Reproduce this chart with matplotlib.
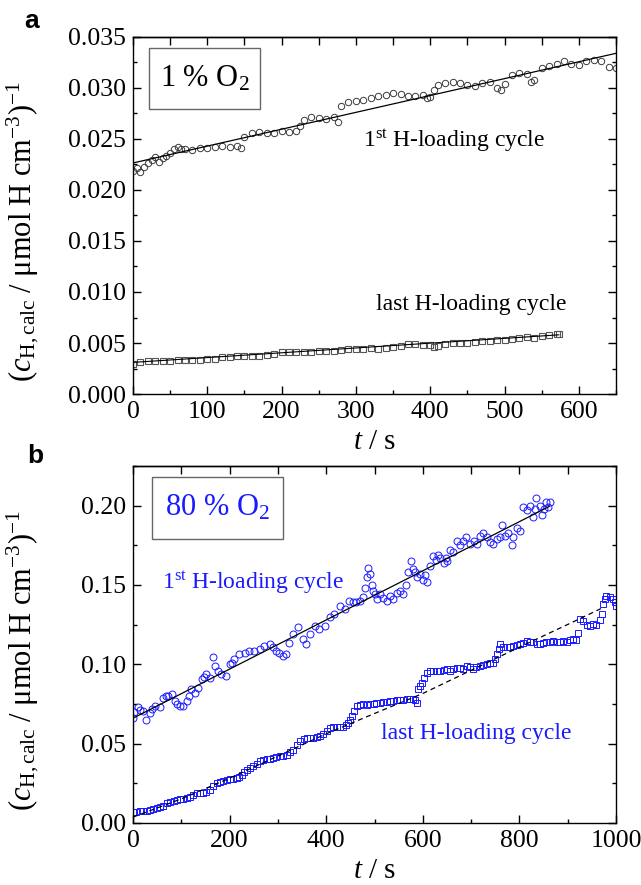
"""
H-loading kinetics at 1 % and 80 % O2: reciprocal calculated hydrogen
concentration vs. time for the first and the last loading cycle.
"""

import matplotlib
matplotlib.use("Agg")
import matplotlib.pyplot as plt
from matplotlib.patches import Rectangle
from matplotlib.ticker import MultipleLocator, NullFormatter

plt.rcParams["font.family"] = ["Liberation Serif", "DejaVu Serif"]
plt.rcParams["mathtext.fontset"] = "custom"
plt.rcParams["mathtext.rm"] = "Liberation Serif"
plt.rcParams["mathtext.it"] = "Liberation Serif:italic"
plt.rcParams["mathtext.bf"] = "Liberation Serif:bold"

# ------------------------------------------------------------ panel a data
A1_T = [0, 5, 10, 15, 20, 25, 30, 35, 40, 45,
        50, 55, 60, 65, 70, 80, 90, 100, 110, 120,
        130, 140, 145, 150, 160, 170, 180, 190, 200, 210,
        220, 225, 230, 240, 250, 260, 270, 276, 280, 290,
        300, 310, 320, 330, 340, 350, 360, 370, 380, 390,
        395, 400, 405, 410, 420, 430, 440, 450, 460, 470,
        480, 490, 495, 500, 510, 520, 530, 535, 540, 550,
        560, 570, 580, 590, 600, 610, 620, 630, 640, 650]
A1_V = [0.0219, 0.0222, 0.0218, 0.0223, 0.0226, 0.0229, 0.0232, 0.0227, 0.0231, 0.0233,
        0.0236, 0.0240, 0.0242, 0.0240, 0.0240, 0.0239, 0.0241, 0.0241, 0.0242, 0.0243,
        0.0242, 0.0243, 0.0241, 0.0252, 0.0256, 0.0257, 0.0256, 0.0256, 0.0258, 0.0257,
        0.0258, 0.0263, 0.0269, 0.0272, 0.0271, 0.0270, 0.0272, 0.0267, 0.0282, 0.0286,
        0.0287, 0.0288, 0.0290, 0.0292, 0.0293, 0.0295, 0.0294, 0.0292, 0.0292, 0.0293,
        0.0290, 0.0291, 0.0298, 0.0303, 0.0305, 0.0306, 0.0305, 0.0303, 0.0302, 0.0305,
        0.0306, 0.0300, 0.0298, 0.0304, 0.0313, 0.0315, 0.0314, 0.0306, 0.0308, 0.0320,
        0.0322, 0.0324, 0.0326, 0.0324, 0.0323, 0.0326, 0.0327, 0.0326, 0.0321, 0.0320]

A2_T = [0, 10, 20, 30, 40, 50, 60, 70, 80, 90,
        100, 110, 120, 130, 140, 150, 160, 170, 180, 190,
        200, 210, 220, 230, 240, 250, 260, 270, 280, 290,
        300, 310, 320, 330, 340, 350, 360, 370, 380, 390,
        400, 405, 410, 420, 430, 440, 450, 460, 470, 480,
        490, 500, 510, 520, 530, 540, 550, 560, 570, 573]
A2_V = [0.0029, 0.0031, 0.0032, 0.0032, 0.0032, 0.0032, 0.0033, 0.0033, 0.0033, 0.0033,
        0.0034, 0.0034, 0.0036, 0.0036, 0.0037, 0.0037, 0.0037, 0.0037, 0.0038, 0.0039,
        0.0041, 0.0041, 0.0041, 0.0041, 0.0041, 0.0042, 0.0042, 0.0042, 0.0043, 0.0044,
        0.0044, 0.0044, 0.0045, 0.0044, 0.0045, 0.0046, 0.0047, 0.0049, 0.0049, 0.0048,
        0.0048, 0.0046, 0.0047, 0.0049, 0.0050, 0.0050, 0.0050, 0.0051, 0.0052, 0.0052,
        0.0053, 0.0053, 0.0054, 0.0055, 0.0056, 0.0055, 0.0057, 0.0058, 0.0059, 0.0059]

FIT_A1_T = [0, 650]
FIT_A1_V = [0.02265, 0.0334]
FIT_A2_T = [0, 573]
FIT_A2_V = [0.0031, 0.0058]

# ------------------------------------------------------------ panel b data
B1_T = [0, 3, 10, 15, 20, 27, 35, 40, 45, 55,
        62, 68, 73, 80, 87, 92, 97, 104, 111, 116,
        121, 128, 135, 142, 147, 152, 159, 166, 169, 176,
        183, 193, 200, 205, 210, 220, 231, 241, 251, 262,
        272, 283, 290, 296, 303, 310, 317, 324, 331, 341,
        352, 359, 366, 376, 386, 397, 407, 417, 428, 438,
        448, 455, 462, 470, 476, 480, 484, 487, 490, 494,
        497, 501, 505, 511, 518, 525, 532, 539, 546, 553,
        560, 566, 570, 575, 580, 584, 589, 594, 600, 605,
        608, 615, 622, 627, 632, 636, 643, 647, 650, 657,
        663, 670, 677, 684, 690, 698, 705, 712, 718, 725,
        732, 739, 746, 753, 760, 763, 770, 777, 784, 787,
        794, 801, 808, 815, 822, 828, 832, 835, 842, 846,
        850, 856, 860, 863]
B1_V = [0.066, 0.070, 0.0728, 0.071, 0.0707, 0.0652, 0.0696, 0.072, 0.0736, 0.073,
        0.079, 0.080, 0.080, 0.081, 0.0768, 0.075, 0.0736, 0.0736, 0.0768, 0.080,
        0.0842, 0.082, 0.0852, 0.0905, 0.092, 0.0937, 0.0916, 0.1044, 0.099, 0.0958,
        0.0937, 0.0926, 0.100, 0.101, 0.1031, 0.1063, 0.1073, 0.1084, 0.1084, 0.1095,
        0.1116, 0.1126, 0.111, 0.1084, 0.107, 0.1053, 0.1063, 0.1137, 0.119, 0.1232,
        0.1158, 0.1126, 0.119, 0.1243, 0.1221, 0.1243, 0.1296, 0.1318, 0.1369, 0.1348,
        0.140, 0.139, 0.139, 0.140, 0.1421, 0.148, 0.155, 0.161, 0.157, 0.150,
        0.146, 0.144, 0.141, 0.144, 0.142, 0.140, 0.143, 0.141, 0.145, 0.146,
        0.144, 0.150, 0.158, 0.165, 0.160, 0.158, 0.155, 0.157, 0.153, 0.156,
        0.152, 0.162, 0.168, 0.166, 0.169, 0.167, 0.164, 0.167, 0.165, 0.172,
        0.171, 0.178, 0.175, 0.178, 0.180, 0.176, 0.178, 0.176, 0.181, 0.183,
        0.180, 0.177, 0.176, 0.179, 0.180, 0.188, 0.181, 0.183, 0.175, 0.180,
        0.186, 0.184, 0.199, 0.197, 0.200, 0.193, 0.198, 0.205, 0.200, 0.194,
        0.198, 0.202, 0.199, 0.202]

B2_T = [0, 7, 14, 21, 28, 35, 42, 49, 56, 63,
        70, 77, 84, 91, 97, 104, 111, 118, 125, 132,
        139, 145, 152, 160, 166, 173, 180, 187, 194, 201,
        208, 215, 220, 225, 230, 235, 242, 249, 256, 263,
        270, 277, 284, 290, 297, 304, 311, 318, 325, 332,
        339, 346, 353, 360, 367, 373, 380, 387, 394, 401,
        408, 415, 422, 429, 435, 441, 446, 450, 453, 458,
        463, 470, 477, 484, 491, 498, 504, 511, 518, 525,
        532, 539, 546, 553, 560, 567, 573, 580, 584, 587,
        591, 595, 598, 603, 608, 615, 622, 629, 636, 643,
        650, 657, 663, 670, 677, 684, 691, 698, 704, 711,
        718, 725, 732, 739, 746, 750, 753, 757, 760, 767,
        774, 781, 787, 794, 801, 808, 815, 822, 829, 836,
        842, 849, 856, 863, 870, 877, 884, 891, 898, 905,
        912, 918, 922, 925, 932, 939, 946, 953, 959, 966,
        970, 973, 977, 980, 987, 994, 997, 1000]
B2_V = [0.0072, 0.0070, 0.0073, 0.0074, 0.0078, 0.0082, 0.0086, 0.0094, 0.0103, 0.0110,
        0.0125, 0.0135, 0.0138, 0.0143, 0.0149, 0.0152, 0.0160, 0.0166, 0.0178, 0.0188,
        0.0190, 0.0188, 0.0195, 0.0209, 0.0230, 0.0251, 0.0258, 0.0262, 0.0270, 0.0276,
        0.0280, 0.0283, 0.0290, 0.0304, 0.0320, 0.0335, 0.0345, 0.0356, 0.0372, 0.0388,
        0.0396, 0.0403, 0.0406, 0.0409, 0.0414, 0.0420, 0.0424, 0.0430, 0.0445, 0.0462,
        0.0490, 0.0515, 0.0528, 0.0536, 0.0534, 0.0536, 0.0540, 0.0546, 0.0560, 0.0578,
        0.0600, 0.0604, 0.0606, 0.0605, 0.0606, 0.0615, 0.0631, 0.0650, 0.0673, 0.0705,
        0.0736, 0.0742, 0.0747, 0.0745, 0.0747, 0.0750, 0.0753, 0.0758, 0.0762, 0.0765,
        0.0768, 0.0770, 0.0772, 0.0775, 0.0778, 0.0780, 0.0783, 0.0780, 0.0778, 0.0757,
        0.0842, 0.0865, 0.0884, 0.0915, 0.0947, 0.0955, 0.0958, 0.0955, 0.0958, 0.0962,
        0.0968, 0.0960, 0.0973, 0.0976, 0.0979, 0.0972, 0.0990, 0.0982, 0.0973, 0.0985,
        0.0990, 0.0995, 0.1000, 0.1005, 0.1011, 0.1035, 0.1064, 0.1095, 0.1127, 0.1110,
        0.1106, 0.1112, 0.1116, 0.1120, 0.1127, 0.1135, 0.1148, 0.1140, 0.1138, 0.1130,
        0.1127, 0.1132, 0.1138, 0.1142, 0.1148, 0.1140, 0.1138, 0.1145, 0.1142, 0.1150,
        0.1160, 0.1155, 0.1200, 0.1285, 0.1270, 0.1250, 0.1240, 0.1255, 0.1245, 0.1280,
        0.1320, 0.1380, 0.1410, 0.1430, 0.1425, 0.1410, 0.1390, 0.1370]

FIT_B1_T = [0, 862]
FIT_B1_V = [0.066, 0.1995]
FIT_B2_T = [0, 100, 200, 300, 400, 500, 600, 700, 800, 900, 975]
FIT_B2_V = [0.0037, 0.0152, 0.0282, 0.0422, 0.0562, 0.0690, 0.0816, 0.0962,
            0.1108, 0.1251, 0.136]

BLUE = "#1a1aff"
GREY = "#3a3a3a"
YLABEL = r"$(c_{\mathrm{H,calc}}\ /\ \mathrm{\mu mol\ H\ cm^{-3}})^{-1}$"


def style_axes(ax, xmaj, xmin, ymaj, ymin, xlim, ylim):
    ax.set_xlim(*xlim)
    ax.set_ylim(*ylim)
    ax.xaxis.set_major_locator(MultipleLocator(xmaj))
    ax.xaxis.set_minor_locator(MultipleLocator(xmin))
    ax.yaxis.set_major_locator(MultipleLocator(ymaj))
    ax.yaxis.set_minor_locator(MultipleLocator(ymin))
    ax.tick_params(which="both", direction="in", right=True, top=False,
                   width=1.0, labelsize=18.5)
    ax.tick_params(which="major", length=5.5, pad=5)
    ax.tick_params(which="minor", length=3.0)
    # top axis: every minor position gets a full-length tick
    sec = ax.secondary_xaxis("top")
    sec.xaxis.set_major_locator(MultipleLocator(xmin))
    sec.xaxis.set_major_formatter(NullFormatter())
    sec.tick_params(direction="in", length=5.5, width=1.0)
    for s in ax.spines.values():
        s.set_linewidth(1.0)
    sec.spines["top"].set_linewidth(1.0)
    # x label placed by its baseline, 55 px under the axis
    ax.set_xlabel(r"$t$ / s", fontsize=21, va="baseline")
    ax.xaxis.set_label_coords(0.5, -55 / 357)
    ax.set_ylabel(YLABEL, fontsize=22)
    ax.yaxis.set_label_coords(-0.19, 0.455)


def boxed_label(ax, x0, y0, x1, y1, text, color):
    ax.add_patch(Rectangle((x0, y0), x1 - x0, y1 - y0, transform=ax.transAxes,
                           fill=False, edgecolor="#666666", linewidth=1.0,
                           zorder=5))
    ax.text((x0 + x1) / 2, (y0 + y1) / 2, text, transform=ax.transAxes,
            ha="center", va="center", fontsize=22, color=color, zorder=6)


def main() -> None:
    fig = plt.figure(figsize=(6.41, 8.85), dpi=100)
    ax_a = fig.add_axes([0.2075, 0.5548, 0.7535, 0.4034])
    ax_b = fig.add_axes([0.2075, 0.0701, 0.7535, 0.4034])

    # ---- panel a: 1 % O2 ------------------------------------------------
    ax_a.plot(A1_T, A1_V, "o", ms=4.6, mfc="none", mec=GREY, mew=0.7)
    ax_a.plot(A2_T, A2_V, "s", ms=3.8, mfc="none", mec="#555555", mew=0.8)
    ax_a.plot(FIT_A1_T, FIT_A1_V, "-", color="k", lw=0.9)
    ax_a.plot(FIT_A2_T, FIT_A2_V, "-", color="k", lw=0.8)
    style_axes(ax_a, 100, 50, 0.005, 0.0025, (0, 650), (0, 0.035))
    ax_a.yaxis.set_major_formatter(plt.FormatStrFormatter("%.3f"))
    boxed_label(ax_a, 0.033, 0.798, 0.263, 0.969, r"1 % O$_2$", "black")
    ax_a.text(0.476, 0.692, r"1$^{\mathrm{st}}$ H-loading cycle",
              transform=ax_a.transAxes, fontsize=17, ha="left", va="baseline")
    ax_a.text(0.503, 0.235, "last H-loading cycle",
              transform=ax_a.transAxes, fontsize=17, ha="left", va="baseline")

    # ---- panel b: 80 % O2 -----------------------------------------------
    ax_b.plot(B1_T, B1_V, "o", ms=5.0, mfc="none", mec=BLUE, mew=0.7)
    ax_b.plot(B2_T, B2_V, "s", ms=4.0, mfc="none", mec=BLUE, mew=0.7)
    ax_b.plot(FIT_B1_T, FIT_B1_V, "-", color="k", lw=0.9)
    ax_b.plot(FIT_B2_T, FIT_B2_V, "--", color="k", lw=0.9, dashes=(4, 3))
    style_axes(ax_b, 200, 100, 0.05, 0.025, (0, 1000), (0, 0.225))
    ax_b.yaxis.set_major_formatter(plt.FormatStrFormatter("%.2f"))
    boxed_label(ax_b, 0.039, 0.796, 0.311, 0.969, r"80 % O$_2$", BLUE)
    ax_b.text(0.06, 0.655, r"1$^{\mathrm{st}}$ H-loading cycle", color=BLUE,
              transform=ax_b.transAxes, fontsize=17, ha="left", va="baseline")
    ax_b.text(0.513, 0.235, "last H-loading cycle", color=BLUE,
              transform=ax_b.transAxes, fontsize=17, ha="left", va="baseline")

    # panel letters
    fig.text(32 / 641, 1 - 21 / 885, "a", fontsize=19, fontweight="bold",
             family="Liberation Sans", ha="center", va="center")
    fig.text(35 / 641, 1 - 456 / 885, "b", fontsize=19, fontweight="bold",
             family="Liberation Sans", ha="center", va="center")

    fig.savefig("out.png", dpi=100)
    plt.close(fig)


if __name__ == "__main__":
    main()
